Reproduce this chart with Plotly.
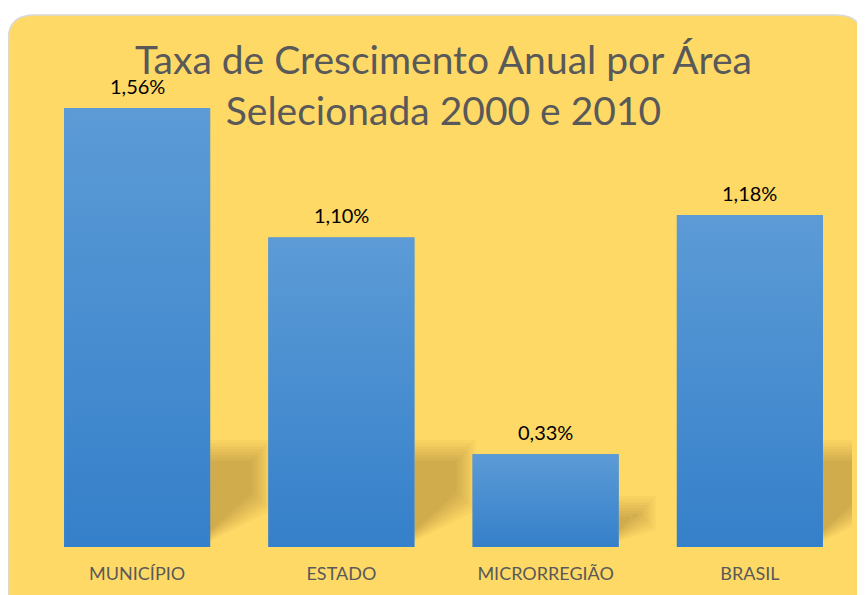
import plotly.graph_objects as go

categories = ["MUNICÍPIO", "ESTADO", "MICRORREGIÃO", "BRASIL"]
values = [1.56, 1.10, 0.33, 1.18]
title_text = "Taxa de Crescimento Anual por Área<br>Selecionada 2000 e 2010"

# the page adds an 8px body margin, so the figure is sized to fit inside it
W, H = 857, 587
L, R, T, B = 27, 13, 52, 48
pw, ph = W - L - R, H - T - B
ymax = ph / 281.4
bargap = 0.285
hw = (1 - bargap) / 2
FONT = "Lato"
xs = list(range(len(categories)))

fig = go.Figure()

# bars (real data) + vertical gradient overlay built from the same values
fig.add_trace(go.Bar(x=xs, y=values, width=1 - bargap,
                     marker=dict(color="#4A8DD1", line=dict(width=0)),
                     hoverinfo="skip", showlegend=False))
for i, v in zip(xs, values):
    fig.add_trace(go.Scatter(
        x=[i - hw, i + hw, i + hw, i - hw, i - hw], y=[0, 0, v, v, 0],
        fill="toself", mode="lines",
        line=dict(width=0, color="rgba(0,0,0,0)"),
        fillgradient=dict(type="vertical",
                          colorscale=[[0, "#3580CA"], [1, "#5C9BD6"]]),
        hoverinfo="skip", showlegend=False))

# value labels
for i, v in zip(xs, values):
    fig.add_annotation(x=i, y=v, xref="x", yref="y",
                       text=f"{v:.2f}".replace(".", ",") + "%",
                       showarrow=False, yanchor="bottom", yshift=8,
                       font=dict(family=FONT, size=20, color="#000000"))

def px2paper(px, py):
    return (px - L) / pw, (H - B - py) / ph

# rounded yellow panel
x0p, y0p = px2paper(0, 7)
x1p, y1p = px2paper(855, 620)
rx, ry = 26 / pw, 26 / ph
path = (f"M {x0p+rx},{y0p} L {x1p-rx},{y0p} Q {x1p},{y0p} {x1p},{y0p-ry} "
        f"L {x1p},{y1p} L {x0p},{y1p} L {x0p},{y0p-ry} Q {x0p},{y0p} {x0p+rx},{y0p} Z")
shapes = [dict(type="path", path=path, xref="paper", yref="paper",
               fillcolor="#FFD966", line=dict(color="#D9D9D9", width=1.5),
               layer="below")]

# soft perspective shadows behind bars
for i, v in zip(xs, values):
    top = min(0.38, 0.55 * v)
    length = min(0.3, 0.55 * v)
    n = 8
    for k in range(n):
        s = k * 0.009
        sx0 = i + hw
        sx1 = sx0 + length - s * 1.5
        t = top - s * 1.2
        shapes.append(dict(
            type="path", xref="x", yref="y", layer="below",
            path=(f"M {sx0},{0.02 + s * 0.6} L {sx0},{t} L {sx1},{t} "
                  f"L {sx1},{0.34 * top + s} Z"),
            fillcolor="rgba(60,45,0,0.032)", line=dict(width=0)))

fig.add_annotation(x=0.5, y=px2paper(0, 26)[1], xref="paper", yref="paper",
                   text=title_text, showarrow=False, yanchor="top",
                   font=dict(family=FONT, size=39, color="#595959"))

fig.update_layout(
    width=W, height=H,
    margin=dict(l=L, r=R, t=T, b=B, pad=0),
    paper_bgcolor="#FFFFFF", plot_bgcolor="rgba(0,0,0,0)",
    shapes=shapes, bargap=bargap,
    xaxis=dict(range=[-0.5, len(categories) - 0.5], tickvals=xs,
               ticktext=categories, showgrid=False, zeroline=False,
               showline=False, ticks="", fixedrange=True,
               ticklabelstandoff=14,
               tickfont=dict(family=FONT, size=18, color="#595959")),
    yaxis=dict(range=[0, ymax], visible=False, fixedrange=True),
    showlegend=False,
)

fig.write_html("out.html")
